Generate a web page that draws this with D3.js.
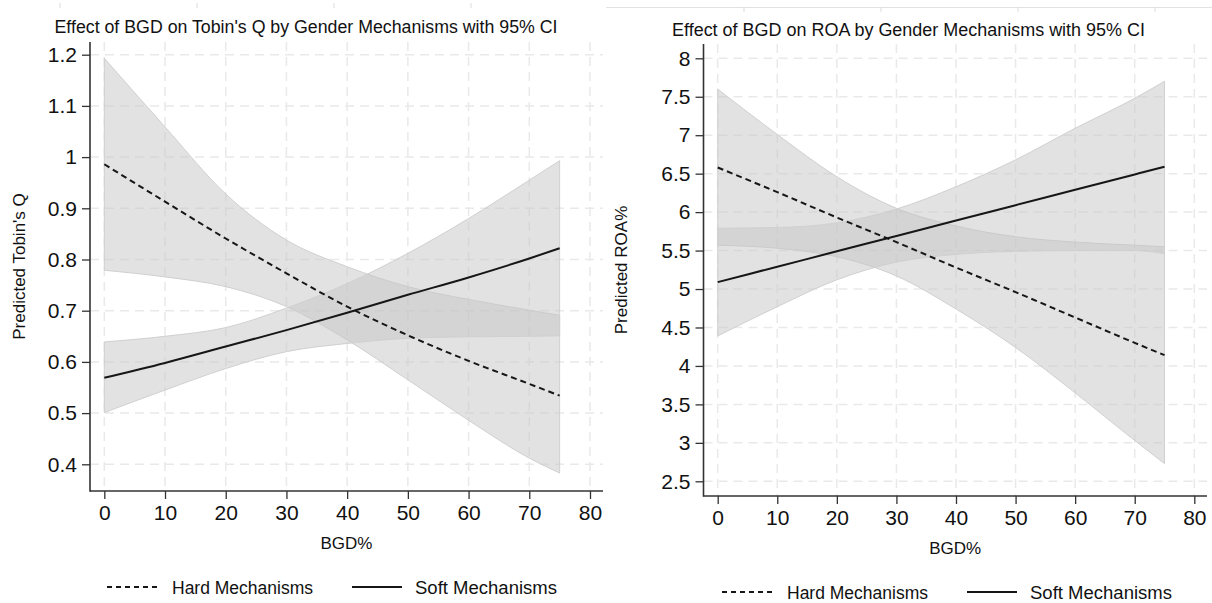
<!DOCTYPE html>
<html>
<head>
<meta charset="utf-8">
<script src="https://cdn.jsdelivr.net/npm/d3@7"></script>
<style>
  body { margin: 0; background: #fff; }
  svg text { font-family: "Liberation Sans", Arial, Helvetica, sans-serif; fill: #111; }
</style>
</head>
<body>
<div id="chart"></div>
<script>
var bgd = [0, 10, 20, 30, 40, 50, 60, 70, 75];

// Tobin's Q panel
var hardQ   = [0.986, 0.913, 0.841, 0.773, 0.708, 0.652, 0.602, 0.557, 0.534];
var hardQlo = [0.779, 0.766, 0.747, 0.708, 0.643, 0.565, 0.486, 0.412, 0.383];
var hardQhi = [1.193, 1.059, 0.928, 0.838, 0.786, 0.747, 0.722, 0.701, 0.691];
var softQ   = [0.569, 0.598, 0.630, 0.662, 0.696, 0.731, 0.765, 0.802, 0.822];
var softQlo = [0.501, 0.545, 0.587, 0.620, 0.636, 0.646, 0.649, 0.650, 0.651];
var softQhi = [0.639, 0.650, 0.667, 0.705, 0.753, 0.812, 0.880, 0.955, 0.993];

// ROA panel
var hardR   = [6.58, 6.26, 5.93, 5.61, 5.28, 4.96, 4.63, 4.30, 4.14];
var hardRlo = [5.57, 5.53, 5.42, 5.17, 4.74, 4.24, 3.65, 3.03, 2.73];
var hardRhi = [7.60, 7.01, 6.46, 6.05, 5.82, 5.68, 5.61, 5.57, 5.55];
var softR   = [5.09, 5.29, 5.49, 5.69, 5.89, 6.09, 6.29, 6.49, 6.59];
var softRlo = [4.39, 4.77, 5.12, 5.35, 5.45, 5.49, 5.50, 5.50, 5.46];
var softRhi = [5.79, 5.80, 5.86, 6.04, 6.33, 6.68, 7.09, 7.48, 7.70];

// tick labels
var xTicks = [0, 10, 20, 30, 40, 50, 60, 70, 80];
var yTicksQ = [0.4, 0.5, 0.6, 0.7, 0.8, 0.9, 1, 1.1, 1.2];
var yTicksR = [2.5, 3, 3.5, 4, 4.5, 5, 5.5, 6, 6.5, 7, 7.5, 8];

var legendLabels = ["Hard Mechanisms", "Soft Mechanisms"];

var svgWidth = 1212;
var svgHeight = 603;

var svg = d3.select("#chart")
  .append("svg")
  .attr("width", svgWidth)
  .attr("height", svgHeight);

// faint leftovers of a cropped figure along the top edge
svg.selectAll(".crumb")
  .data([60, 197, 334, 471])
  .enter()
  .append("line")
  .attr("x1", d => d).attr("x2", d => d)
  .attr("y1", 3).attr("y2", 8)
  .attr("stroke", "#dcdcdc");
svg.append("line")
  .attr("x1", 606).attr("x2", 1212)
  .attr("y1", 7.5).attr("y2", 7.5)
  .attr("stroke", "#e2e2e2");
svg.selectAll(".crumb2")
  .data([744, 881, 1018, 1155])
  .enter()
  .append("line")
  .attr("x1", d => d).attr("x2", d => d)
  .attr("y1", 7.5).attr("y2", 12)
  .attr("stroke", "#dcdcdc");

function drawPanel(p) {
  var g = svg.append("g");

  var x = d3.scaleLinear().domain([0, 80]).range(p.xRange);
  var y = d3.scaleLinear().domain(p.yDomain).range(p.yRange);

  // dashed grid
  g.selectAll(".hgrid")
    .data(p.yTicks)
    .enter()
    .append("line")
    .attr("x1", p.left).attr("x2", p.right)
    .attr("y1", d => y(d)).attr("y2", d => y(d))
    .attr("stroke", "#e9e9e9")
    .attr("stroke-width", 1.5)
    .attr("stroke-dasharray", "9,6");

  g.selectAll(".vgrid")
    .data(xTicks)
    .enter()
    .append("line")
    .attr("x1", d => x(d)).attr("x2", d => x(d))
    .attr("y1", p.top).attr("y2", p.bottom)
    .attr("stroke", "#e9e9e9")
    .attr("stroke-width", 1.5)
    .attr("stroke-dasharray", "9,6");

  // confidence bands
  var band = d3.area()
    .x((d, i) => x(bgd[i]))
    .y0(d => y(d[0]))
    .y1(d => y(d[1]))
    .curve(d3.curveMonotoneX);

  [p.hardBand, p.softBand].forEach(function(b) {
    g.append("path")
      .datum(d3.zip(b[0], b[1]))
      .attr("d", band)
      .attr("fill", "#c6c6c6")
      .attr("fill-opacity", 0.5)
      .attr("stroke", "#d0d0d0")
      .attr("stroke-width", 1);
  });

  // prediction lines
  var line = d3.line()
    .x((d, i) => x(bgd[i]))
    .y(d => y(d))
    .curve(d3.curveMonotoneX);

  g.append("path")
    .datum(p.hard)
    .attr("d", line)
    .attr("fill", "none")
    .attr("stroke", "#161616")
    .attr("stroke-width", 2)
    .attr("stroke-dasharray", "6,4");

  g.append("path")
    .datum(p.soft)
    .attr("d", line)
    .attr("fill", "none")
    .attr("stroke", "#161616")
    .attr("stroke-width", 2);

  // axes
  var leftAxis = d3.axisLeft(y)
    .tickValues(p.yTicks)
    .tickFormat(d => String(+d.toFixed(2)))
    .tickSize(8)
    .tickPadding(5);

  var bottomAxis = d3.axisBottom(x)
    .tickValues(xTicks)
    .tickSize(8)
    .tickPadding(6);

  var yAxis = g.append("g")
    .attr("transform", `translate(${p.left}, 0)`)
    .call(leftAxis);

  var xAxis = g.append("g")
    .attr("transform", `translate(0, ${p.bottom})`)
    .call(bottomAxis);

  [yAxis, xAxis].forEach(function(a) {
    a.select(".domain").remove();
    a.selectAll("line").attr("stroke", "#333").attr("stroke-width", 1.3);
    a.selectAll("text")
      .style("font-size", "21px")
      .style("font-family", "\"Liberation Sans\", Arial, sans-serif")
      .attr("fill", "#111");
  });

  g.append("line")
    .attr("x1", p.left).attr("x2", p.left)
    .attr("y1", p.top).attr("y2", p.bottom + 0.7)
    .attr("stroke", "#333").attr("stroke-width", 1.6);
  g.append("line")
    .attr("x1", p.left).attr("x2", p.right)
    .attr("y1", p.bottom).attr("y2", p.bottom)
    .attr("stroke", "#333").attr("stroke-width", 1.6);

  // titles
  g.append("text")
    .attr("x", p.titleX)
    .attr("y", p.titleY)
    .attr("text-anchor", "middle")
    .attr("textLength", p.titleW)
    .attr("lengthAdjust", "spacingAndGlyphs")
    .style("font-size", "17.5px")
    .text(p.title);

  g.append("text")
    .attr("x", (p.left + p.right) / 2)
    .attr("y", p.bottom + 58)
    .attr("text-anchor", "middle")
    .style("font-size", "17px")
    .text("BGD%");

  g.append("text")
    .attr("transform", `translate(${p.yLabelX}, ${(p.top + p.bottom) / 2}) rotate(-90)`)
    .attr("text-anchor", "middle")
    .style("font-size", "17px")
    .text(p.yLabel);

  // legend
  var legend = g.append("g")
    .attr("transform", `translate(${p.legendX}, ${p.legendY})`);

  legend.append("line")
    .attr("x1", 0).attr("x2", 50)
    .attr("y1", 0).attr("y2", 0)
    .attr("stroke", "#161616").attr("stroke-width", 1.8)
    .attr("stroke-dasharray", "5,4");
  legend.append("text")
    .attr("x", 65).attr("y", 6.5)
    .attr("textLength", 141)
    .attr("lengthAdjust", "spacingAndGlyphs")
    .style("font-size", "17.5px")
    .text(legendLabels[0]);

  legend.append("line")
    .attr("x1", 245).attr("x2", 295)
    .attr("y1", 0).attr("y2", 0)
    .attr("stroke", "#161616").attr("stroke-width", 1.8);
  legend.append("text")
    .attr("x", 308).attr("y", 6.5)
    .attr("textLength", 142)
    .attr("lengthAdjust", "spacingAndGlyphs")
    .style("font-size", "17.5px")
    .text(legendLabels[1]);
}

drawPanel({
  left: 90, right: 603, top: 42, bottom: 491,
  xRange: [104.3, 590.0],
  yDomain: [0.4, 1.2], yRange: [464.3, 54.7],
  yTicks: yTicksQ,
  hard: hardQ, soft: softQ,
  hardBand: [hardQlo, hardQhi], softBand: [softQlo, softQhi],
  title: "Effect of BGD on Tobin's Q by Gender Mechanisms with 95% CI",
  titleX: 306, titleY: 33, titleW: 503,
  yLabel: "Predicted Tobin's Q", yLabelX: 24.5,
  legendX: 107, legendY: 587
});

drawPanel({
  left: 703.5, right: 1207, top: 44, bottom: 496,
  xRange: [717.7, 1194.3],
  yDomain: [2.5, 8], yRange: [481.3, 58.3],
  yTicks: yTicksR,
  hard: hardR, soft: softR,
  hardBand: [hardRlo, hardRhi], softBand: [softRlo, softRhi],
  title: "Effect of BGD on ROA by Gender Mechanisms with 95% CI",
  titleX: 908.5, titleY: 36, titleW: 473,
  yLabel: "Predicted ROA%", yLabelX: 627,
  legendX: 722, legendY: 592
});
</script>
</body>
</html>
